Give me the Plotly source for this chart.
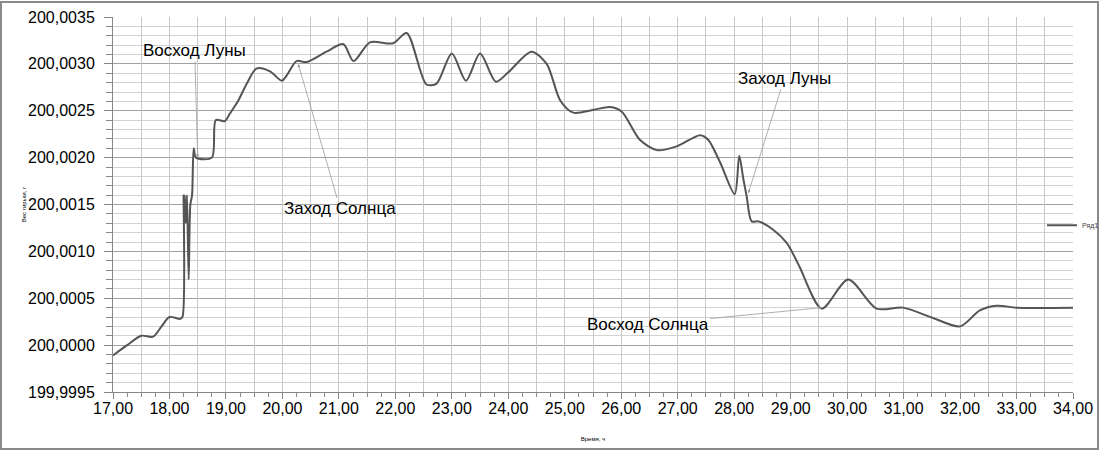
import plotly.graph_objects as go

# Time, hours
time_h = [17.00, 17.25, 17.50, 17.71, 17.86, 18.00, 18.19, 18.23, 18.25, 18.26, 18.27, 18.29,
          18.31, 18.34, 18.37, 18.40, 18.43, 18.47, 18.75, 18.82, 18.98, 19.07, 19.22, 19.37,
          19.54, 19.78, 19.99, 20.08, 20.25, 20.43, 20.78, 21.08, 21.26, 21.55, 21.96, 22.20,
          22.55, 22.73, 23.00, 23.25, 23.50, 23.78, 24.00, 24.41, 24.68, 24.92, 25.15, 25.51,
          25.80, 26.01, 26.33, 26.63, 26.98, 27.40, 27.54, 27.75, 28.01, 28.09, 28.16, 28.22,
          28.31, 28.43, 28.69, 28.93, 29.08, 29.17, 29.55, 30.02, 30.52, 30.99, 31.52, 32.00,
          32.35, 32.65, 33.00, 34.00]
# Weight, g
weight_g = [199.99989, 200.00000, 200.00010, 200.00009, 200.00020, 200.00030, 200.00028, 200.00030,
            200.00160, 200.00130, 200.00160, 200.00130, 200.00160, 200.00070, 200.00150, 200.00160,
            200.00210, 200.00200, 200.00200, 200.00240, 200.00239, 200.00247, 200.00261, 200.00279,
            200.00295, 200.00292, 200.00282, 200.00288, 200.00303, 200.00302, 200.00313, 200.00321,
            200.00303, 200.00323, 200.00322, 200.00333, 200.00278, 200.00279, 200.00311, 200.00282,
            200.00311, 200.00281, 200.00291, 200.00313, 200.00300, 200.00261, 200.00248, 200.00251,
            200.00254, 200.00249, 200.00219, 200.00208, 200.00212, 200.00224, 200.00219, 200.00195,
            200.00161, 200.00202, 200.00178, 200.00159, 200.00132, 200.00132, 200.00123, 200.00109,
            200.00093, 200.00082, 200.00039, 200.00070, 200.00039, 200.00040, 200.00029, 200.00020,
            200.00037, 200.00042, 200.00040, 200.00040]

series_name = "Ряд1"

# Annotated events: (label, time, weight at the arrow tip)
event_labels = ["Восход Луны", "Заход Солнца", "Заход Луны", "Восход Солнца"]
event_time = [18.50, 20.28, 28.25, 29.55]
event_weight = [200.00200, 200.00300, 200.00162, 200.00040]
label_offsets = [(-3, -107), (42, 145), (36, -115), (-174, 17)]

FONT = "Liberation Sans, Arial, sans-serif"

fig = go.Figure()
fig.add_trace(go.Scatter(
    x=time_h, y=weight_g, mode="lines", name=series_name,
    line=dict(color="#555555", width=2, shape="spline", smoothing=0.8),
    showlegend=True,
))
# overlay axis used only for vertical grid every 0.5 h
fig.add_trace(go.Scatter(x=[time_h[0], time_h[-1]], y=[weight_g[0], weight_g[-1]],
                         xaxis="x2", mode="none", showlegend=False, hoverinfo="skip"))

for lab, t, w, (ax, ay) in zip(event_labels, event_time, event_weight, label_offsets):
    fig.add_annotation(x=t, y=w, text=lab, showarrow=True, ax=ax, ay=ay,
                       arrowhead=2, arrowsize=0.8, arrowwidth=0.8, arrowcolor="#9a9a9a",
                       font=dict(family=FONT, size=17, color="#000000"))

fig.update_layout(
    width=1100, height=451,
    margin=dict(l=113, r=27, t=17, b=59, autoexpand=False),
    paper_bgcolor="white", plot_bgcolor="white",
    separators=", ",
    font=dict(family=FONT, color="#000000"),
    legend=dict(x=0.9677, y=0.445, xanchor="left", yanchor="middle",
                bgcolor="rgba(0,0,0,0)", font=dict(size=7, family=FONT, color="#444444"),
                itemwidth=30, tracegroupgap=0),
    xaxis=dict(range=[17, 34], dtick=1, tick0=17, tickformat=".2f", automargin=False,
               tickfont=dict(size=16, family=FONT), ticklabelstandoff=-4,
               ticks="outside", ticklen=6, tickcolor="#888888",
               showgrid=False, zeroline=False,
               showline=True, linecolor="#888888", linewidth=1,
               minor=dict(dtick=0.25, tick0=17, ticks="outside", ticklen=4,
                          tickcolor="#888888", showgrid=False),
               title=dict(text="Время, ч", font=dict(size=6, family=FONT), standoff=20)),
    xaxis2=dict(range=[17, 34], overlaying="x", dtick=0.5, tick0=17,
                showgrid=True, gridcolor="#c8c8c8", gridwidth=1,
                showticklabels=False, ticks="", zeroline=False, showline=False),
    yaxis=dict(range=[199.9995, 200.0035], dtick=0.0005, tick0=200.0, tickformat=".4f",
               automargin=False, ticklabelstandoff=6,
               tickfont=dict(size=16, family=FONT),
               ticks="outside", ticklen=8, tickcolor="#888888",
               showgrid=True, gridcolor="#a0a0a0", gridwidth=1.2, zeroline=False,
               showline=True, linecolor="#888888", linewidth=1,
               minor=dict(dtick=0.0001, ticks="outside", ticklen=6, tickcolor="#888888",
                          showgrid=True, gridcolor="#d2d2d2", gridwidth=1),
               title=dict(text="Вес гирьки, г", font=dict(size=6, family=FONT), standoff=0)),
)

# outer frame of the chart area
fig.add_shape(type="rect", xref="paper", yref="paper",
              x0=-112 / 960, x1=1 + 25 / 960, y0=-57 / 375, y1=1 + 15 / 375,
              line=dict(color="#8a8a8a", width=2), fillcolor="rgba(0,0,0,0)", layer="above")

fig.write_html("out.html", config={"displayModeBar": False},
               post_script="document.body.style.margin='0';")
